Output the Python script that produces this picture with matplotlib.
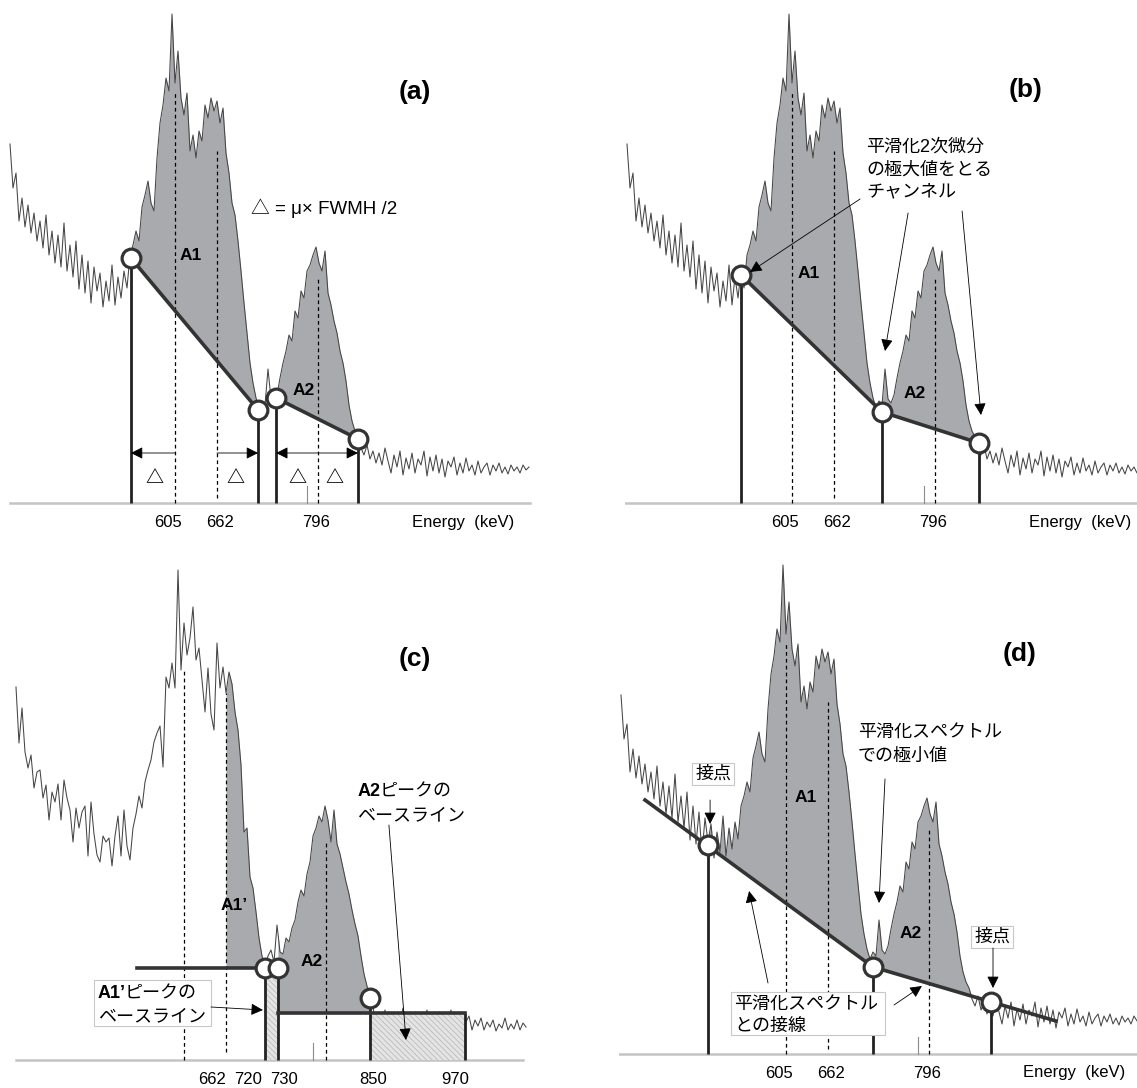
import numpy as np
import matplotlib
matplotlib.use("Agg")
import matplotlib.pyplot as plt
from matplotlib.patches import Rectangle

plt.rcParams['font.family'] = ['Liberation Sans', 'Noto Sans CJK JP', 'DejaVu Sans']
plt.rcParams['hatch.linewidth'] = 0.5

# measured spectrum used in (a), (b), (d): counts per channel
spec = [
    359, 315, 330, 282, 305, 276, 298, 270, 290, 262,
    282, 255, 288, 248, 272, 240, 268, 236, 280, 232,
    258, 226, 262, 214, 248, 210, 242, 200, 236, 212,
    230, 196, 222, 202, 238, 198, 226, 205, 232, 215,
    248, 258, 272, 262, 296, 308, 322, 300, 292, 345,
    380, 398, 425, 412, 489, 420, 452, 405, 388, 410,
    352, 368, 345, 372, 362, 398, 385, 405, 392, 402,
    380, 395, 350, 330, 300, 288, 262, 232, 200, 170,
    140, 120, 105, 95, 102, 98, 134, 104, 100, 108,
    125, 140, 152, 168, 162, 192, 185, 212, 205, 232,
    238, 248, 256, 240, 232, 252, 210, 198, 182, 170,
    152, 140, 122, 98, 82, 72, 66, 55, 48, 58,
    44, 52, 40, 50, 38, 55, 42, 30, 48, 36,
    52, 28, 45, 34, 50, 30, 44, 38, 52, 27,
    46, 32, 48, 30, 44, 26, 42, 36, 46, 28,
    40, 30, 45, 32, 38, 28, 42, 30, 36, 40,
    28, 38, 32, 40, 30, 36, 29, 38, 32, 36,
    30, 38, 33, 36]

# spectrum used in (c)
spec_c = [
    373, 317, 352, 308, 292, 305, 272, 288, 290, 262,
    275, 240, 268, 258, 276, 240, 280, 262, 250, 218,
    252, 232, 248, 254, 204, 258, 226, 205, 198, 224,
    218, 222, 194, 224, 244, 204, 250, 214, 200, 232,
    246, 264, 252, 278, 290, 300, 318, 327, 334, 293,
    383, 372, 397, 372, 490, 390, 437, 405, 422, 453,
    400, 412, 380, 348, 392, 346, 330, 417, 372, 393,
    367, 388, 376, 348, 330, 295, 228, 232, 183, 172,
    148, 122, 104, 92, 104, 110, 98, 135, 108, 106,
    122, 118, 132, 140, 158, 170, 164, 186, 198, 224,
    232, 244, 238, 254, 240, 218, 250, 216, 206, 192,
    178, 166, 150, 136, 124, 104, 86, 74, 62, 52,
    40, 48, 36, 50, 34, 46, 30, 44, 38, 52,
    28, 42, 36, 48, 32, 44, 38, 50, 30, 46,
    34, 48, 28, 44, 36, 50, 32, 42, 30, 46,
    38, 44, 30, 40, 34, 42, 30, 38, 33, 40,
    29, 36, 32, 42, 30, 36, 31, 40, 30, 37,
    33]

# energy marks (channel positions) for (a), (b), (d)
tick_labels = ['605', '662', '796']
tick_ch = [52.5, 70, 102]
dash_ch = [55, 69, 102.5]
dash_top = [412, 352, 224]
dash_bot = [0, 5, 0]

# (a) boundary points
a_node_ch = [40.3, 82.7, 88.7, 116]
a_node_cnt = [245, 93, 105, 64]
a_delta_ch = [48, 75, 95.7, 108.3]

# (b) boundary points
b_node_ch = [38, 85, 117.3]
b_node_cnt = [228, 91, 60]

# (d) tangent line and contact points
d_tan_ch = [8, 84, 145]
d_tan_cnt = [254, 87, 33]
d_node_ch = [29, 84, 123.3]
d_node_cnt = [209, 87, 52]

# (c) marks
c_tick_labels = ['662', '720', '730', '850', '970']
c_tick_ch = [65.3, 77.3, 89.3, 119, 146.3]
c_dash_ch = [56, 70, 103.3]
c_dash_top = [390, 367, 218]
c_dash_bot = [0, 8, 0]
c_node_ch = [83, 87.3, 118]
c_node_cnt = [92, 92, 62]
c_base1 = 92
c_base2 = 47
c_end_ch = 149.7

W, H = 1137, 1088
fig = plt.figure(figsize=(W / 100, H / 100), dpi=100)

LINE = '#454545'
FILL = '#a9aaad'
DARK = '#333333'
JP = 13
TK = 12


def make_ax(left, top, w, h, xlim, ylim):
    ax = fig.add_axes([left / W, 1 - (top + h) / H, w / W, h / H])
    ax.set_xlim(xlim)
    ax.set_ylim(ylim)
    ax.axis('off')
    return ax


def peak_fill(ax, y, lo, hi, bx, by):
    ch = np.arange(len(y))
    x = np.concatenate([[lo], ch[(ch > lo) & (ch < hi)], [hi]])
    top = np.interp(x, ch, y)
    bot = np.interp(x, bx, by)
    ax.fill_between(x, np.maximum(top, bot), bot, color=FILL, lw=0, zorder=1)


def circles(ax, x, y):
    ax.plot(x, y, 'o', ms=13.5, mfc='white', mec=DARK, mew=2.3, zorder=8)


def arrow(ax, x0, y0, x1, y1, style='-|>'):
    ax.annotate('', xy=(x1, y1), xytext=(x0, y0),
                arrowprops=dict(arrowstyle=style + ',head_length=0.6,head_width=0.3',
                                color='k', lw=0.6, shrinkA=0, shrinkB=0,
                                mutation_scale=12), zorder=9)


def hatch_box(ax, x0, x1, top):
    ax.add_patch(Rectangle((x0, 0), x1 - x0, top, fc='#e4e4e4', ec='#b4b4b4',
                           lw=0, hatch='\\\\\\\\\\\\', zorder=4))


def common(ax, y, ax_x0, ax_x1, ticks_ch, ticks, tick_y, energy=True):
    ax.plot(range(len(y)), y, color=LINE, lw=0.75, zorder=3)
    ax.plot([ax_x0, ax_x1], [0, 0], color='#c4c4c4', lw=1.8, zorder=2)
    for c, t in zip(ticks_ch, ticks):
        ax.text(c, tick_y, t, ha='center', va='center', fontsize=TK)
    if energy:
        ax.text(151, tick_y, 'Energy  (keV)', ha='center', va='center', fontsize=TK)
    ax.plot([99, 99], [0, 17], color='#8c8c8c', lw=0.8, zorder=2)


# ---------------- (a) ----------------
ax = make_ax(8, 0, 524, 537, (-0.667, 174), (-34, 503))
peak_fill(ax, spec, a_node_ch[0], a_node_ch[1], a_node_ch[:2], a_node_cnt[:2])
peak_fill(ax, spec, a_node_ch[2], a_node_ch[3], a_node_ch[2:], a_node_cnt[2:])
common(ax, spec, 0, 173.3, tick_ch, tick_labels, -19)
ax.vlines(dash_ch, dash_bot, dash_top, colors='k', linestyles=(0, (3, 2.5)), lw=0.9, zorder=4)
ax.vlines(a_node_ch, 0, a_node_cnt, colors='#222222', lw=2.0, zorder=5)
ax.plot(a_node_ch[:2], a_node_cnt[:2], color=DARK, lw=2.6, zorder=6)
ax.plot(a_node_ch[2:], a_node_cnt[2:], color=DARK, lw=2.6, zorder=6)
circles(ax, a_node_ch, a_node_cnt)
arrow(ax, dash_ch[0], 50, a_node_ch[0], 50)
arrow(ax, dash_ch[1], 50, a_node_ch[1], 50)
arrow(ax, a_node_ch[2], 50, a_node_ch[3], 50, '<|-|>')
for c in a_delta_ch:
    ax.text(c, 24, '△', ha='center', va='center', fontsize=13, fontweight='bold')
ax.text(80.3, 295, '△ = μ× FWMH /2', ha='left', va='center', fontsize=13.5)
ax.text(135, 411, '(a)', ha='center', va='center', fontsize=19, fontweight='bold')
ax.text(60.3, 247, 'A1', ha='center', va='center', fontsize=12.5, fontweight='bold', zorder=7)
ax.text(98, 113, 'A2', ha='center', va='center', fontsize=12.5, fontweight='bold', zorder=7)

# ---------------- (b) ----------------
ax = make_ax(625, 0, 512, 537, (-0.667, 170), (-34, 503))
peak_fill(ax, spec, b_node_ch[0], b_node_ch[1], b_node_ch[:2], b_node_cnt[:2])
peak_fill(ax, spec, b_node_ch[1], b_node_ch[2], b_node_ch[1:], b_node_cnt[1:])
common(ax, spec, -1.7, 170, tick_ch, tick_labels, -19)
ax.vlines(dash_ch, dash_bot, dash_top, colors='k', linestyles=(0, (3, 2.5)), lw=0.9, zorder=4)
ax.vlines(b_node_ch, 0, b_node_cnt, colors='#222222', lw=2.0, zorder=5)
ax.plot(b_node_ch, b_node_cnt, color=DARK, lw=2.6, zorder=6)
circles(ax, b_node_ch, b_node_cnt)
for yy, s in zip([356, 333, 311], ['平滑化2次微分', 'の極大値をとる', 'チャンネル']):
    ax.text(79.7, yy, s, ha='left', va='center', fontsize=JP)
arrow(ax, 77.7, 304, 41, 231)
arrow(ax, 93.7, 290, 86, 152)
arrow(ax, 111.7, 292, 118, 88)
ax.text(133, 413, '(b)', ha='center', va='center', fontsize=19, fontweight='bold')
ax.text(60.7, 230, 'A1', ha='center', va='center', fontsize=12.5, fontweight='bold', zorder=7)
ax.text(96, 110, 'A2', ha='center', va='center', fontsize=12.5, fontweight='bold', zorder=7)

# ---------------- (c) ----------------
ax = make_ax(8, 540, 524, 548, (-2.667, 172), (-28, 520))
peak_fill(ax, spec_c, c_dash_ch[1], c_node_ch[0], [0, 200], [c_base1, c_base1])
peak_fill(ax, spec_c, c_node_ch[1], c_node_ch[2], [0, 200], [c_base2, c_base2])
common(ax, spec_c, 0, 169, c_tick_ch, c_tick_labels, -20, energy=False)
ax.vlines(c_dash_ch, c_dash_bot, c_dash_top, colors='k', linestyles=(0, (3, 2.5)), lw=0.9, zorder=4)
hatch_box(ax, c_node_ch[0], c_node_ch[1], c_base1)
hatch_box(ax, c_node_ch[2], c_end_ch, c_base2)
ax.plot([40.3, c_node_ch[0]], [c_base1, c_base1], color=DARK, lw=2.6, zorder=6)
ax.plot([c_node_ch[1], c_end_ch], [c_base2, c_base2], color=DARK, lw=2.6, zorder=6)
ax.vlines(c_node_ch + [c_end_ch], 0, c_node_cnt + [c_base2], colors='#222222', lw=2.0, zorder=5)
circles(ax, c_node_ch, c_node_cnt)
ax.text(133, 401, '(c)', ha='center', va='center', fontsize=19, fontweight='bold')
ax.text(72.7, 154, 'A1’', ha='center', va='center', fontsize=12.5, fontweight='bold', zorder=7)
ax.text(98.7, 99, 'A2', ha='center', va='center', fontsize=12.5, fontweight='bold', zorder=7)
ax.text(113.7, 268, 'A2', ha='left', va='center', fontsize=JP, fontweight='bold')
ax.annotate('ピークの', xy=(113.7, 268), xytext=(16, 0), textcoords='offset points',
            ha='left', va='center', fontsize=JP)
ax.text(113.7, 244, 'ベースライン', ha='left', va='center', fontsize=JP)
arrow(ax, 124.3, 235, 130, 20)
ax.add_patch(Rectangle((26, 34), 39, 46, fc='white', ec='#c8c8c8', lw=0.8, zorder=7))
ax.text(27.3, 66, 'A1’', ha='left', va='center', fontsize=JP, fontweight='bold', zorder=8)
ax.annotate('ピークの', xy=(27.3, 66), xytext=(19, 0), textcoords='offset points',
            ha='left', va='center', fontsize=JP, zorder=8)
ax.text(27.3, 43, 'ベースライン', ha='left', va='center', fontsize=JP, zorder=8)
arrow(ax, 65, 53, 82.3, 50)

# ---------------- (d) ----------------
ax = make_ax(619, 551, 518, 537, (-0.667, 172), (-34, 503))
peak_fill(ax, spec, d_node_ch[0], d_node_ch[1], d_tan_ch, d_tan_cnt)
peak_fill(ax, spec, d_node_ch[1], d_node_ch[2], d_tan_ch, d_tan_cnt)
common(ax, spec, -1.7, 173, tick_ch, tick_labels, -19)
ax.vlines(dash_ch, dash_bot, dash_top, colors='k', linestyles=(0, (3, 2.5)), lw=0.9, zorder=4)
ax.vlines(d_node_ch, 0, d_node_cnt, colors='#222222', lw=2.0, zorder=5)
ax.plot(d_tan_ch, d_tan_cnt, color=DARK, lw=2.6, zorder=6)
circles(ax, d_node_ch, d_node_cnt)
box = dict(boxstyle='square,pad=0.15', fc='white', ec='#c8c8c8', lw=0.8)
ax.text(30.7, 280, '接点', ha='center', va='center', fontsize=JP, bbox=box, zorder=9)
ax.text(123.7, 117, '接点', ha='center', va='center', fontsize=JP, bbox=box, zorder=9)
arrow(ax, 29.7, 254, 29.7, 230)
arrow(ax, 124, 106, 124, 66)
ax.text(79, 322, '平滑化スペクトル', ha='left', va='center', fontsize=JP)
ax.text(79, 298, 'での極小値', ha='left', va='center', fontsize=JP)
arrow(ax, 88, 275, 86, 151)
ax.add_patch(Rectangle((36.7, 19), 51.3, 43, fc='white', ec='#c8c8c8', lw=0.8, zorder=7))
ax.text(37.7, 50, '平滑化スペクトル', ha='left', va='center', fontsize=JP, zorder=8)
ax.text(37.7, 28, 'との接線', ha='left', va='center', fontsize=JP, zorder=8)
arrow(ax, 49, 71, 42.7, 163)
arrow(ax, 91, 49, 100.3, 68)
ax.text(133, 400, '(d)', ha='center', va='center', fontsize=19, fontweight='bold')
ax.text(61.7, 256, 'A1', ha='center', va='center', fontsize=12.5, fontweight='bold', zorder=7)
ax.text(96.7, 121, 'A2', ha='center', va='center', fontsize=12.5, fontweight='bold', zorder=7)

fig.savefig('out.png', dpi=100)
